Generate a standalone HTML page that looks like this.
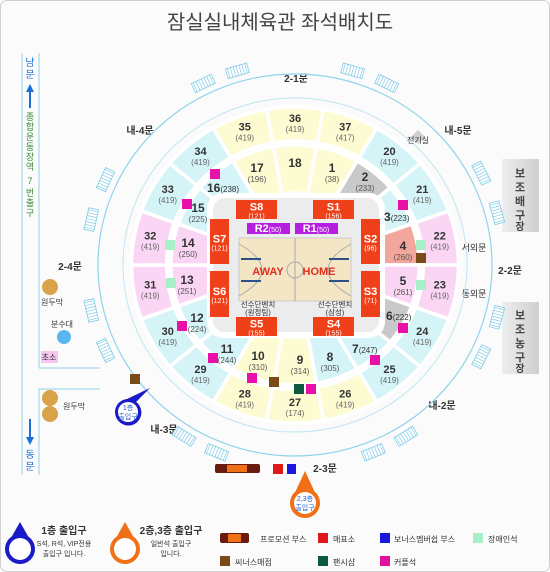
<!DOCTYPE html>
<html><head><meta charset="utf-8">
<style>
html,body{margin:0;padding:0;background:#fff}
svg{display:block;font-family:"Liberation Sans","Noto Sans CJK KR",sans-serif}
</style></head>
<body>
<svg id="map" width="550" height="572" viewBox="0 0 550 572" xmlns="http://www.w3.org/2000/svg">
<rect x="0.5" y="0.5" width="549" height="571" rx="6" fill="#fbfbfb" stroke="#cfcfcf"/>
<text x="280" y="29" text-anchor="middle" font-size="20" fill="#444">잠실실내체육관 좌석배치도</text>

<g stroke="#8fd3ea" fill="none" stroke-width="1">
<line x1="22" y1="53" x2="22" y2="475"/><line x1="39" y1="53" x2="39" y2="368"/>
<line x1="39" y1="368" x2="100" y2="368"/><line x1="39" y1="389" x2="100" y2="389"/><line x1="39" y1="389" x2="39" y2="475"/>
</g>
<g font-size="10" fill="#1a6fd4" text-anchor="middle"><text x="30" y="66">남</text><text x="30" y="78">문</text></g>
<path d="M30 84 L26 92 L29 92 L29 108 L31 108 L31 92 L34 92 Z" fill="#1a6fd4"/>
<g font-size="9" fill="#3a8a3a" text-anchor="middle">
<text x="30" y="120">종</text><text x="30" y="130">합</text><text x="30" y="140">운</text><text x="30" y="150">동</text><text x="30" y="160">장</text><text x="30" y="170">역</text><text x="30" y="184">7</text><text x="30" y="196">번</text><text x="30" y="206">출</text><text x="30" y="216">구</text></g>
<path d="M30 445 L26 437 L29 437 L29 419 L31 419 L31 437 L34 437 Z" fill="#1a6fd4"/>
<g font-size="10" fill="#1a6fd4" text-anchor="middle"><text x="30" y="458">동</text><text x="30" y="470">문</text></g>
<text x="70" y="270" font-size="10" fill="#333" font-weight="bold" text-anchor="middle">2-4문</text>
<circle cx="50" cy="287" r="8" fill="#d9a34a"/>
<text x="52" y="305" font-size="8" fill="#333" text-anchor="middle">원두막</text>
<text x="62" y="327" font-size="8" fill="#333" text-anchor="middle">분수대</text>
<circle cx="64" cy="337" r="7" fill="#5ab6ee"/>
<rect x="41" y="351" width="17" height="12" fill="#f6c6ef"/>
<text x="49" y="360" font-size="8" fill="#333" text-anchor="middle">초소</text>
<circle cx="50" cy="398" r="8" fill="#d9a34a"/>
<circle cx="50" cy="414" r="8" fill="#d9a34a"/>
<text x="74" y="409" font-size="8" fill="#333" text-anchor="middle">원두막</text>

<defs><linearGradient id="gb" x1="0" x2="1"><stop offset="0" stop-color="#eee"/><stop offset="1" stop-color="#cfcfcf"/></linearGradient></defs>
<rect x="502" y="159" width="37" height="73" fill="url(#gb)"/>
<g font-size="11" fill="#444" text-anchor="middle" font-weight="bold"><text x="520" y="177">보</text><text x="520" y="191">조</text><text x="520" y="205">배</text><text x="520" y="219">구</text><text x="520" y="230" font-size="10">장</text></g>
<rect x="502" y="302" width="37" height="72" fill="url(#gb)"/>
<g font-size="11" fill="#444" text-anchor="middle" font-weight="bold"><text x="520" y="319">보</text><text x="520" y="333">조</text><text x="520" y="347">농</text><text x="520" y="361">구</text><text x="520" y="372" font-size="10">장</text></g>
<g font-size="9" fill="#333" text-anchor="middle">
<text x="474" y="251">서외문</text><text x="510" y="274" font-size="10" font-weight="bold">2-2문</text><text x="474" y="297">동외문</text>
<text x="458" y="134" font-size="10" font-weight="bold">내-5문</text>
<text x="140" y="134" font-size="10" font-weight="bold">내-4문</text>
<text x="442" y="409" font-size="10" font-weight="bold">내-2문</text>
<text x="164" y="433" font-size="10" font-weight="bold">내-3문</text>
<text x="296" y="82" font-size="10" font-weight="bold">2-1문</text>
<text x="325" y="472" font-size="10" font-weight="bold">2-3문</text>
</g>

<g id="rings"></g>
<g id="ladders"></g>

<rect x="207" y="193" width="178" height="145" rx="16" fill="#fff"/>
<rect x="213" y="198" width="166" height="134" rx="12" fill="#ececec"/>
<g><rect x="413" y="132" width="10" height="10" fill="#d0d0d0" transform="rotate(45 418 137)"/><text x="418" y="143" font-size="8" fill="#333" text-anchor="middle">전기실</text></g>

<g id="court">
<rect x="239" y="238" width="112" height="63" fill="#f4e6c4" stroke="#ccc"/>
<line x1="295" y1="238" x2="295" y2="301" stroke="#aaa"/>
<circle cx="295" cy="270" r="8" fill="none" stroke="#aaa"/>
<path d="M239 244 Q285 270 239 296" fill="none" stroke="#aaa"/>
<path d="M351 244 Q305 270 351 296" fill="none" stroke="#aaa"/>
<rect x="241" y="258" width="20" height="2" fill="#2d4f8a"/><rect x="241" y="280" width="20" height="2" fill="#2d4f8a"/>
<rect x="329" y="258" width="20" height="2" fill="#2d4f8a"/><rect x="329" y="280" width="20" height="2" fill="#2d4f8a"/>
<text x="268" y="275" font-size="11" font-weight="bold" fill="#e0301e" text-anchor="middle">AWAY</text>
<text x="319" y="275" font-size="11" font-weight="bold" fill="#e0301e" text-anchor="middle">HOME</text>
</g>
<g font-size="7.5" fill="#333" text-anchor="middle">
<text x="258" y="307">선수단벤치</text><text x="258" y="315">(원정팀)</text>
<text x="335" y="307">선수단벤치</text><text x="335" y="315">(삼성)</text></g>
<g id="courtseats"></g>
<g id="markers"></g>

<g>
<path d="M150 388 L136 402 A13 13 0 1 1 125 400 Z" fill="#1a1ac8"/>
<circle cx="128" cy="412" r="13" fill="#1a1ac8"/><circle cx="128" cy="412" r="10" fill="#fff"/>
<text x="128" y="410" font-size="7" fill="#1a5ed4" text-anchor="middle">1층</text><text x="128" y="419" font-size="7" fill="#1a5ed4" text-anchor="middle">출입구</text></g>
<g><rect x="215" y="464" width="45" height="9" rx="2" fill="#6b1a10"/><rect x="227" y="465" width="20" height="7" fill="#f07018"/></g>
<rect x="273" y="464" width="10" height="10" fill="#e01818"/>
<rect x="287" y="464" width="9" height="10" fill="#1818e0"/>
<g>
<path d="M305 471 L292 499 L318 499 Z" fill="#f07018"/>
<circle cx="305" cy="503" r="15" fill="#f07018"/><circle cx="305" cy="503" r="11" fill="#fff"/>
<text x="305" y="501" font-size="7" fill="#1a5ed4" text-anchor="middle">2,3층</text><text x="305" y="510" font-size="7" fill="#1a5ed4" text-anchor="middle">출입구</text></g>

<g>
<path d="M20 522 L7 545 L33 545 Z" fill="#1a1ac8"/><circle cx="20" cy="549" r="15" fill="#1a1ac8"/><circle cx="20" cy="549" r="11" fill="#fff"/>
<text x="64" y="534" font-size="10" font-weight="bold" fill="#333" text-anchor="middle">1층 출입구</text>
<text x="64" y="546" font-size="7" fill="#333" text-anchor="middle">S석, R석, VIP전용</text>
<text x="64" y="556" font-size="7" fill="#333" text-anchor="middle">출입구 입니다.</text>
<path d="M125 522 L112 545 L138 545 Z" fill="#f07018"/><circle cx="125" cy="549" r="15" fill="#f07018"/><circle cx="125" cy="549" r="11" fill="#fff"/>
<text x="171" y="534" font-size="10" font-weight="bold" fill="#333" text-anchor="middle">2층,3층 출입구</text>
<text x="171" y="546" font-size="7" fill="#333" text-anchor="middle">일반석 출입구</text>
<text x="171" y="556" font-size="7" fill="#333" text-anchor="middle">입니다.</text>
<rect x="220" y="533" width="29" height="10" rx="2" fill="#6b1a10"/><rect x="228" y="534" width="13" height="8" fill="#f07018"/>
<text x="260" y="542" font-size="8" fill="#333">프로모션 부스</text>
<rect x="318" y="533" width="10" height="10" fill="#e01818"/><text x="333" y="542" font-size="8" fill="#333">매표소</text>
<rect x="380" y="533" width="10" height="10" fill="#1818e0"/><text x="394" y="542" font-size="8" fill="#333">보너스멤버쉽 부스</text>
<rect x="473" y="533" width="10" height="10" fill="#a8f0c8"/><text x="488" y="542" font-size="8" fill="#333">장애인석</text>
<rect x="220" y="556" width="10" height="10" fill="#7a4a18"/><text x="235" y="565" font-size="8" fill="#333">씨너스매점</text>
<rect x="318" y="556" width="10" height="10" fill="#0e5a40"/><text x="333" y="565" font-size="8" fill="#333">팬시샵</text>
<rect x="380" y="556" width="10" height="10" fill="#e010a0"/><text x="394" y="565" font-size="8" fill="#333">커플석</text>
</g>
</svg>
<script>
var NS="http://www.w3.org/2000/svg";
var CX=295, CY=265, KX=1.035;
var outerNames=["36","37","20","21","22","23","24","25","26","27","28","29","30","31","32","33","34","35"];
var outerCounts=[419,417,419,419,419,419,419,419,419,174,419,419,419,419,419,419,419,419];
var outerKinds=["y","y","b","b","p","p","b","b","y","y","y","b","b","p","p","b","b","y"];
var innerNames=["18","1","2","3","4","5","6","7","8","9","10","11","12","13","14","15","16","17"];
var innerCounts=[null,38,233,223,260,261,222,247,305,314,310,244,224,251,250,225,238,196];
var innerKinds=["y","y","g","b","s","p","g","b","b","y","y","b","b","p","p","b","b","y"];
var innerLabelX=[295,332,365,384,403,403,386,352,330,300,258,227,197,187,188,198,207,257];
var innerLabelY=[163,168,177,217,246,281,316,349,357,360,356,349,318,280,243,208,188,168];
var innerInline=[0,0,0,1,0,0,1,1,0,0,0,0,0,0,0,0,1,0];
var ladderAngles=[-26,-16,16,26,63,75,105,117,148,158,202,212,245,257,283,295];
var colors={y:"#fdfbd2",b:"#d5f4f8",p:"#fbd6f4",g:"#c9c9c9",s:"#f2a69c"};
function pt(a,r){var t=a*Math.PI/180;return [CX+r*KX*Math.sin(t),CY-r*Math.cos(t)];}
function sector(a0,a1,r0,r1){
  var p1=pt(a0,r1),p2=pt(a1,r1),p3=pt(a1,r0),p4=pt(a0,r0);
  return "M"+p1+" A"+(r1*KX)+" "+r1+" 0 0 1 "+p2+" L"+p3+" A"+(r0*KX)+" "+r0+" 0 0 0 "+p4+"Z";
}
function mk(tag,attrs,parent){var e=document.createElementNS(NS,tag);for(var k in attrs)e.setAttribute(k,attrs[k]);parent.appendChild(e);return e;}
function txt(x,y,s,size,fill,bold,parent){var t=mk("text",{x:x,y:y,"font-size":size,fill:fill,"text-anchor":"middle"},parent);if(bold)t.setAttribute("font-weight","bold");t.textContent=s;return t;}
var rings=document.getElementById("rings");
mk("ellipse",{cx:CX,cy:CY,rx:197,ry:191,fill:"none",stroke:"#8fd3ea","stroke-width":1.2},rings);
mk("ellipse",{cx:CX,cy:CY,rx:172,ry:167,fill:"none",stroke:"#bfe6f2","stroke-width":1},rings);
for(var i=0;i<outerNames.length;i++){
  var a=i*20;
  var g=mk("g",{},rings);
  
  
  mk("path",{d:sector(a-10,a+10,124,158),fill:colors[outerKinds[i]],stroke:"#fff","stroke-width":3.5},g);
  var c=pt(a,142);
  txt(c[0],c[1]-1,outerNames[i],11,"#333",true,g);
  txt(c[0],c[1]+9,"("+outerCounts[i]+")",8,"#666",false,g);
}
for(var i=0;i<innerNames.length;i++){
  var a=i*20;
  var g=mk("g",{},rings);
  
  
  mk("path",{d:sector(a-10,a+10,72,120),fill:colors[innerKinds[i]],stroke:"#fff","stroke-width":3.5},g);
}
var labelLayer=document.getElementById("markers");
for(var i=0;i<innerNames.length;i++){
  var g=mk("g",{},labelLayer);
  
  
  var x=innerLabelX[i],y=innerLabelY[i];
  if(innerInline[i]){
    var t=mk("text",{x:x,y:y+4,"font-size":8,fill:"#333"},g);
    var s1=document.createElementNS(NS,"tspan");s1.setAttribute("font-size","12");s1.setAttribute("font-weight","bold");s1.textContent=innerNames[i];t.appendChild(s1);
    var s2=document.createElementNS(NS,"tspan");s2.textContent="("+innerCounts[i]+")";t.appendChild(s2);
  } else {
    txt(x,y+4,innerNames[i],12,"#333",true,g);
    if(innerCounts[i]!==null) txt(x,y+14,"("+innerCounts[i]+")",8,"#555",false,g);
  }
}
var lad=document.getElementById("ladders");
for(var i=0;i<ladderAngles.length;i++){
  var a=ladderAngles[i], p=pt(a,202);
  var g=mk("g",{transform:"translate("+p[0]+","+p[1]+") rotate("+a+")"},lad);
  
  
  mk("rect",{x:-11,y:-5,width:22,height:10,fill:"#fff",stroke:"#7fcbe6","stroke-width":0.8},g);
  for(var k=-9;k<=9;k+=3) mk("line",{x1:k,y1:-5,x2:k,y2:5,stroke:"#7fcbe6","stroke-width":0.7},g);
}
var seatNames=["S8","S1","S7","S6","S2","S3","S5","S4"];
var seatCounts=[121,156,121,121,96,71,155,155];
var seatX=[236,313,210,210,361,361,236,313];
var seatY=[200,200,219,271,219,271,317,317];
var seatW=[41,41,19,19,19,19,41,41];
var seatH=[19,19,45,46,45,46,19,19];
var cs=document.getElementById("courtseats");
for(var i=0;i<seatNames.length;i++){
  var g=mk("g",{},cs);
  
  
  mk("rect",{x:seatX[i],y:seatY[i],width:seatW[i],height:seatH[i],fill:"#f0401a"},g);
  var mx=seatX[i]+seatW[i]/2, my=seatY[i]+seatH[i]/2;
  txt(mx,my+1,seatNames[i],11,"#fff",true,g);
  txt(mx,my+9,"("+seatCounts[i]+")",7,"#fff",false,g);
}
var rNames=["R2","R1"], rCounts=[50,50], rX=[247,295];
for(var i=0;i<2;i++){
  var g=mk("g",{},cs);
  
  
  mk("rect",{x:rX[i],y:223,width:43,height:11,fill:"#b51ee0"},g);
  var t=mk("text",{x:rX[i]+21,y:232,"font-size":7,fill:"#fff","text-anchor":"middle"},g);
  var a1=document.createElementNS(NS,"tspan");a1.setAttribute("font-size","11");a1.setAttribute("font-weight","bold");a1.textContent=rNames[i];t.appendChild(a1);
  var a2=document.createElementNS(NS,"tspan");a2.textContent="("+rCounts[i]+")";t.appendChild(a2);
}
var mkX=[215,187,403,170,171,421,421,421,182,213,252,274,299,311,375,403,135];
var mkY=[174,204,205,245,283,245,258,285,326,358,378,382,389,389,360,328,379];
var mkT=["m","m","m","d","d","d","c","d","m","m","m","c","f","m","m","m","c"];
var mkC={m:"#e810a8",d:"#a8f0c8",c:"#7a4a18",f:"#0e5a40"};
for(var i=0;i<mkX.length;i++){
  var r=mk("rect",{x:mkX[i]-5,y:mkY[i]-5,width:10,height:10,fill:mkC[mkT[i]]},labelLayer);
  
  
}
</script>
</body></html>
